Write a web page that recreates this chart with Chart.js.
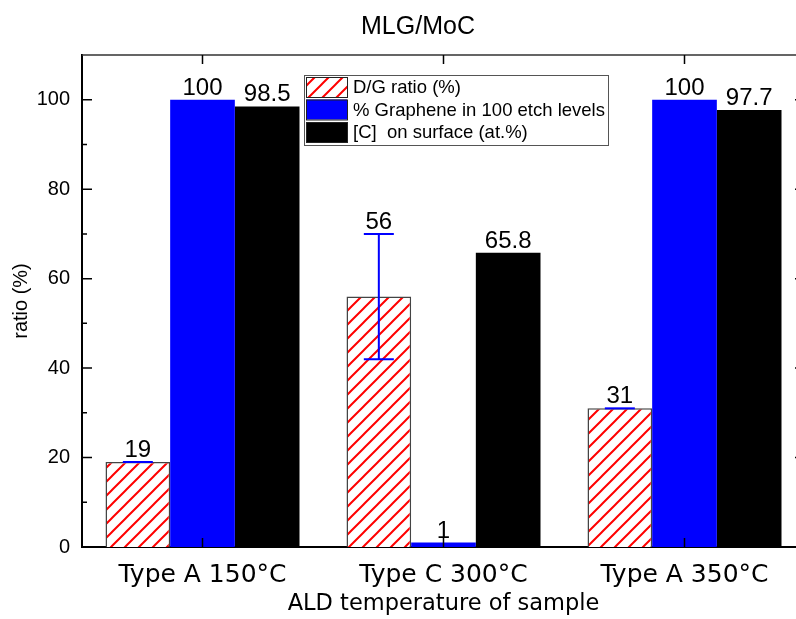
<!DOCTYPE html>
<html lang="en">
<head>
<meta charset="UTF-8">
<title>MLG/MoC</title>
<style>
  html, body { margin: 0; padding: 0; background: #fff; overflow: hidden; }
  .chartBox { width: 810px; height: 619px; }
</style>
</head>
<body>
<div class="chartBox"><canvas id="myChart"></canvas></div>

<script src="https://cdn.jsdelivr.net/npm/chart.js@4.4.0/dist/chart.umd.min.js"></script>
<script>
// data
const chartTitle = 'MLG/MoC';
const categories = ['Type A 150°C', 'Type C 300°C', 'Type A 350°C'];
const seriesNames = ['D/G ratio (%)', '% Graphene in 100 etch levels', '[C]  on surface (at.%)'];
const dgRatio = [19, 56, 31];
const dgError = [0, 14, 0];
const graphene = [100, 1, 100];
const carbon = [98.5, 65.8, 97.7];
const yTicks = [0, 20, 40, 60, 80, 100];

const ctx = document.getElementById('myChart').getContext('2d');

// red diagonal hatch
function makeHatch() {
    const c = document.createElement('canvas');
    c.width = 14; c.height = 14;
    const g = c.getContext('2d');
    g.fillStyle = '#fff';
    g.fillRect(0, 0, 14, 14);
    g.strokeStyle = '#ff0000';
    g.lineWidth = 2;
    g.beginPath();
    g.moveTo(-2, 16); g.lineTo(16, -2);
    g.moveTo(-2, 2); g.lineTo(2, -2);
    g.moveTo(12, 16); g.lineTo(16, 12);
    g.stroke();
    return ctx.createPattern(c, 'repeat');
}
const hatch = makeHatch();

// error bars, value labels, inward ticks, frame, title, legend
const extras = {
    id: 'extras',
    afterDatasetsDraw(chart) {
        const c = chart.ctx;
        const xs = chart.scales.x, ys = chart.scales.y;
        const area = chart.chartArea;
        c.save();

        // error bars on the D/G series
        const m0 = chart.getDatasetMeta(0);
        c.strokeStyle = '#0000ff';
        c.lineWidth = 2;
        m0.data.forEach((bar, i) => {
            const v = dgRatio[i], e = dgError[i];
            const yt = ys.getPixelForValue(v + e), yb = ys.getPixelForValue(v - e);
            c.beginPath();
            if (e > 0) { c.moveTo(bar.x, yt); c.lineTo(bar.x, yb); c.moveTo(bar.x - 15, yb); c.lineTo(bar.x + 15, yb); }
            c.moveTo(bar.x - 15, yt); c.lineTo(bar.x + 15, yt);
            c.stroke();
        });

        // value labels
        c.fillStyle = '#000';
        c.font = '24px "Liberation Sans"';
        c.textAlign = 'center';
        c.textBaseline = 'alphabetic';
        chart.data.datasets.forEach((ds, d) => {
            chart.getDatasetMeta(d).data.forEach((bar, i) => {
                const v = ds.data[i];
                const top = d === 0 ? v + dgError[i] : v;
                c.fillText(String(v), bar.x, ys.getPixelForValue(top) - 5);
            });
        });

        // frame top/right
        c.strokeStyle = '#333';
        c.lineWidth = 1.5;
        c.beginPath();
        c.moveTo(area.left, area.top); c.lineTo(area.right, area.top); c.lineTo(area.right, area.bottom);
        c.stroke();

        // inward ticks
        c.strokeStyle = '#000';
        c.lineWidth = 1.5;
        c.beginPath();
        categories.forEach((_, i) => {
            const x = xs.getPixelForValue(i);
            c.moveTo(x, area.bottom); c.lineTo(x, area.bottom - 9);
            c.moveTo(x, area.top); c.lineTo(x, area.top + 9);
        });
        for (let v = 0; v <= 100; v += 10) {
            const y = ys.getPixelForValue(v);
            const len = v % 20 === 0 ? 10 : 5;
            c.moveTo(area.left, y); c.lineTo(area.left + len, y);
            c.moveTo(area.right, y); c.lineTo(area.right - len, y);
        }
        c.stroke();
        c.restore();
    },
    afterDraw(chart) {
        const c = chart.ctx;
        c.save();
        // title
        c.fillStyle = '#000';
        c.font = '25px "Liberation Sans"';
        c.textAlign = 'center';
        c.textBaseline = 'middle';
        c.fillText(chartTitle, 418, 27);

        // legend box
        c.fillStyle = '#fff';
        c.fillRect(304, 75, 304, 70);
        c.strokeStyle = '#555';
        c.lineWidth = 1;
        c.strokeRect(304.5, 75.5, 304, 70);
        c.font = '18.5px "Liberation Sans"';
        c.textAlign = 'left';
        chart.data.datasets.forEach((ds, i) => {
            const y0 = 77 + i * 22.5;
            c.fillStyle = ds.backgroundColor;
            c.fillRect(306, y0, 41, 20);
            c.strokeStyle = '#222';
            c.strokeRect(306.5, y0 + 0.5, 41, 20);
            c.fillStyle = '#000';
            c.fillText(ds.label, 353, y0 + 11);
        });
        c.restore();
    }
};

new Chart(ctx, {
    type: 'bar',
    data: {
        labels: categories,
        datasets: [
            { label: seriesNames[0], data: dgRatio, backgroundColor: hatch, borderColor: '#444', borderWidth: 1.5 },
            { label: seriesNames[1], data: graphene, backgroundColor: '#0000ff', borderWidth: 0 },
            { label: seriesNames[2], data: carbon, backgroundColor: '#000000', borderWidth: 0 }
        ]
    },
    options: {
        responsive: true,
        maintainAspectRatio: false,
        animation: false,
        layout: { padding: { left: 0, right: 5, top: 55, bottom: 0 } },
        datasets: { bar: { categoryPercentage: 0.805, barPercentage: 1 } },
        plugins: {
            legend: { display: false },
            tooltip: { enabled: false },
            title: { display: false }
        },
        scales: {
            x: {
                grid: { display: false, drawTicks: false },
                border: { display: true, color: '#000', width: 2 },
                ticks: { color: '#000', font: { family: 'DejaVu Sans', size: 25 }, padding: 13, maxRotation: 0 },
                title: {
                    display: true, text: 'ALD temperature of sample', color: '#000',
                    font: { family: 'DejaVu Sans', size: 22.5 }, padding: { top: 0, bottom: 1 }
                },
                afterFit: s => { s.height = 72; }
            },
            y: {
                min: 0, max: 110,
                grid: { display: false, drawTicks: false },
                border: { display: true, color: '#000', width: 2 },
                afterBuildTicks: s => { s.ticks = yTicks.map(v => ({ value: v })); },
                ticks: { color: '#000', font: { family: 'Liberation Sans', size: 20 }, padding: 12 },
                title: {
                    display: true, text: 'ratio (%)', color: '#000',
                    font: { family: 'Liberation Sans', size: 20 }, padding: { top: 9.5, bottom: 0 }
                },
                afterFit: s => { s.width = 82; }
            }
        }
    },
    plugins: [extras]
});
</script>
</body>
</html>
